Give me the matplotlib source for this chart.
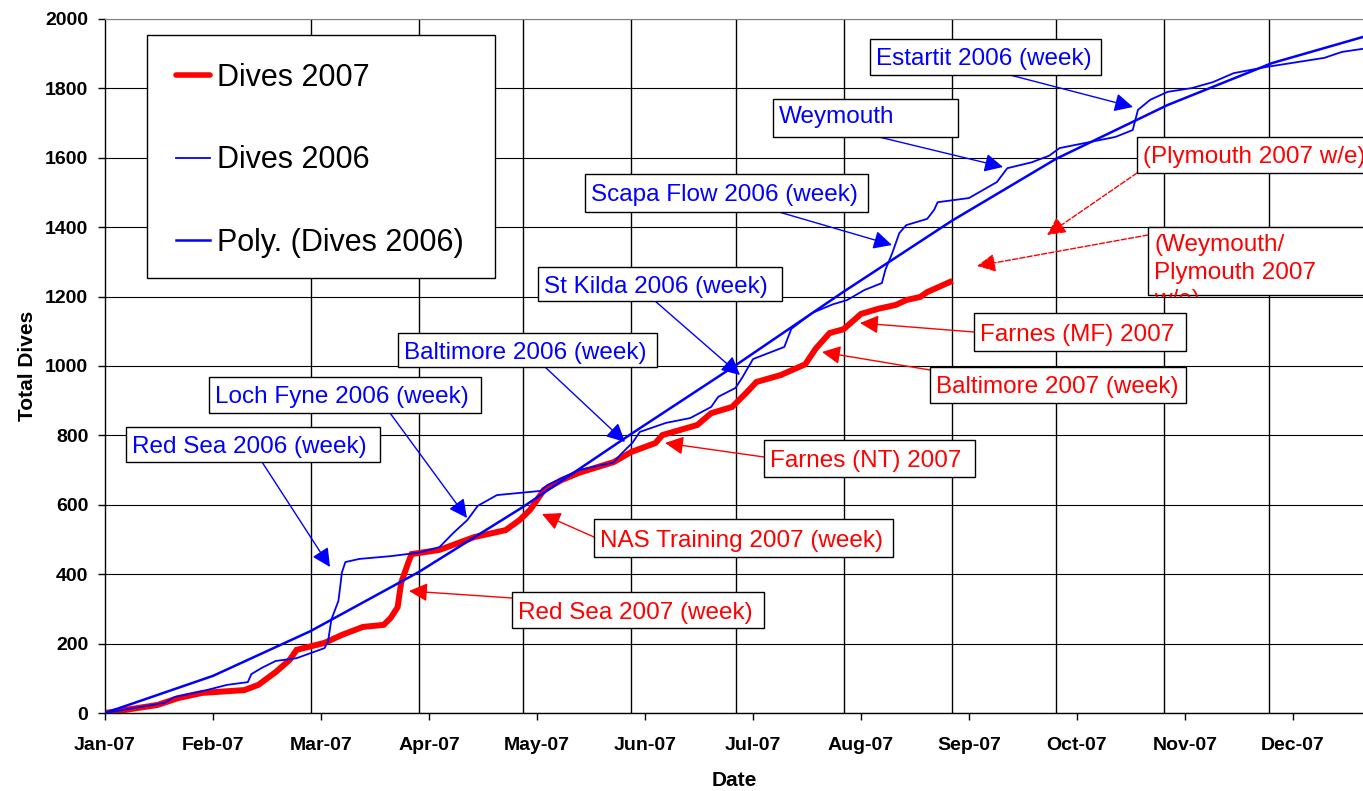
import numpy as np
import matplotlib
matplotlib.use('Agg')
import matplotlib.pyplot as plt
import matplotlib.dates as mdates
import matplotlib.ticker as mticker
from matplotlib.patches import Rectangle, FancyArrowPatch
from matplotlib.lines import Line2D

plt.rcParams['font.family'] = ['Liberation Sans', 'DejaVu Sans']

START = '2007-01-01'

# days after 1 Jan and running total of dives
days_2007 = [0, 15, 21, 28, 40, 44, 49, 53, 55, 63, 68, 74, 80, 82, 84, 85, 87, 88,
             96, 106, 115, 119, 122, 126, 131, 136, 146, 151, 158, 160, 170, 174,
             180, 184, 187, 194, 201, 204, 208, 212, 217, 222, 227, 230, 234, 236, 242.5]
dives_2007 = [0, 23, 43, 58, 66, 81, 118, 153, 182, 202, 225, 248, 254, 274, 305, 375, 432, 458,
              470, 507, 527, 556, 585, 643, 671, 692, 723, 752, 778, 801, 830, 864,
              882, 922, 954, 974, 1005, 1050, 1095, 1106, 1150, 1165, 1176, 1190, 1199, 1213, 1242]

days_2006 = [0, 17, 20, 28, 35, 41, 42, 45, 49, 55, 63, 64, 65, 67, 67.5, 68, 69, 73, 82, 90,
             96, 100, 104, 107, 112.5, 125, 127, 136, 146, 148, 151.5, 153.5, 161, 168, 174,
             176, 181, 183, 186, 195, 197, 203, 209, 213, 218, 223, 224, 226, 228, 230, 236,
             238, 239, 248, 252, 256, 259, 266, 271, 274, 290, 295, 296.5, 300, 305, 312, 318,
             324, 333.5, 350, 355, 361]
dives_2006 = [0, 29, 46, 63, 81, 89, 112, 130, 150, 158, 187, 205, 270, 323, 363, 405, 435, 444, 452, 462,
              478, 519, 556, 597, 628, 640, 657, 700, 722, 745, 780, 810, 836, 850, 882,
              911, 937, 968, 1020, 1055, 1107, 1153, 1178, 1190, 1219, 1239, 1277, 1326, 1383, 1406, 1424,
              1450, 1472, 1484, 1507, 1530, 1570, 1587, 1606, 1628, 1660, 1680, 1738, 1767, 1790, 1801, 1818,
              1844, 1862, 1888, 1905, 1914]

trend_days = [0, 31, 59, 90, 120, 151, 181, 212, 243, 273, 305, 335, 361]
trend_dives = [0, 107, 236, 406, 594, 804, 1002, 1214, 1418, 1597, 1752, 1873, 1948]

W, H = 1363, 791
fig = plt.figure(figsize=(W / 100, H / 100), dpi=100)
ax = fig.add_axes([105 / W, 1 - 713 / H, (W - 105) / W, (713 - 19) / H])

t0 = mdates.date2num(np.datetime64(START))


def to_x(d):
    return t0 + np.asarray(d, dtype=float)


ax.plot(to_x(days_2007), dives_2007, color='#ff0000', lw=4.3, solid_joinstyle='miter', zorder=2)
ax.plot(to_x(days_2006), dives_2006, color='#0000ff', lw=1.3, zorder=3)
ax.plot(to_x(trend_days), trend_dives, color='#0000ff', lw=1.8, zorder=3)

ax.set_xlim(t0, t0 + 361.1)
ax.set_ylim(0, 2000)
ax.xaxis.set_major_locator(mticker.FixedLocator(t0 + np.arange(12) * 31))
ax.xaxis.set_major_formatter(mdates.DateFormatter('%b-%y'))
ax.xaxis.set_minor_locator(mdates.MonthLocator())
ax.yaxis.set_major_locator(mticker.MultipleLocator(200))

ax.grid(False)
ax.grid(True, axis='x', which='minor', color='black', lw=1.0)
ax.grid(True, axis='y', which='major', color='black', lw=0.8)
ax.set_axisbelow(True)
ax.tick_params(axis='both', which='minor', length=0)
ax.tick_params(axis='both', which='major', direction='out', length=5, width=1, labelsize=14)
ax.tick_params(axis='x', pad=12.5)
ax.tick_params(axis='y', pad=7)
plt.setp(ax.get_xticklabels() + ax.get_yticklabels(), fontweight='bold')

ax.spines['right'].set_visible(False)
ax.spines['top'].set_color('#808080')
for s in ('left', 'bottom'):
    ax.spines[s].set_linewidth(1.0)

ax.set_xlabel('Date', fontsize=15, fontweight='bold')
ax.set_ylabel('Total Dives', fontsize=15, fontweight='bold')
ax.xaxis.set_label_coords(0.5, -0.083)
ax.yaxis.set_label_coords(-0.054, 0.5)

# legend: frame drawn separately so the padding can match
handles = [Line2D([], [], color='#ff0000', lw=4, solid_capstyle='round'),
           Line2D([], [], color='#0000ff', lw=1.3),
           Line2D([], [], color='#0000ff', lw=1.8)]
labels = ['Dives 2007', 'Dives 2006', 'Poly. (Dives 2006)']
ax.legend(handles, labels, loc='upper left', bbox_to_anchor=(176 / W, 1 - 63 / H),
          bbox_transform=fig.transFigure, frameon=False, fontsize=22,
          handlelength=1.1, handletextpad=0.25, labelspacing=1.71,
          borderpad=0, borderaxespad=0)
ax.add_patch(Rectangle((147 / W, 1 - 278 / H), (495 - 147) / W, (278 - 35) / H,
                       transform=fig.transFigure, fc='white', ec='black', lw=1,
                       clip_on=False, zorder=4))


def fp(p):
    return (p[0] / W, 1 - p[1] / H)


BLUE, RED = '#0000ff', '#ff0000'
# text, colour, box (left, top, right, bottom in px), arrow start, arrow tip, dashed
notes = [
    ('Red Sea 2006 (week)', BLUE, (126, 427, 380, 462), (262, 462), (330, 567), False),
    ('Loch Fyne 2006 (week)', BLUE, (209, 377, 481, 413), (390, 413), (467, 518), False),
    ('Baltimore 2006 (week)', BLUE, (398, 333, 657, 367), (545, 367), (625, 442), False),
    ('St Kilda 2006 (week)', BLUE, (538, 267, 782, 301), (655, 301), (740, 375), False),
    ('Scapa Flow 2006 (week)', BLUE, (585, 174, 868, 212), (779, 212), (892, 245), False),
    ('Weymouth\n2006 (week)', BLUE, (773, 99, 958, 137), (879, 137), (1003, 167), False),
    ('Estartit 2006 (week)', BLUE, (870, 39, 1101, 75), (1010, 75), (1133, 107), False),
    ('(Plymouth 2007 w/e)', RED, (1137, 137, 1375, 173), (1137, 173), (1047, 235), True),
    ('(Weymouth/\nPlymouth 2007\nw/e)', RED, (1148, 227, 1375, 295), (1148, 235), (977, 266), True),
    ('Farnes (MF) 2007', RED, (974, 313, 1186, 351), (974, 332), (860, 323), False),
    ('Baltimore 2007 (week)', RED, (930, 367, 1186, 403), (930, 370), (822, 352), False),
    ('Farnes (NT) 2007', RED, (764, 440, 975, 477), (764, 457), (665, 443), False),
    ('NAS Training 2007 (week)', RED, (594, 519, 893, 557), (594, 537), (542, 514), False),
    ('Red Sea 2007 (week)', RED, (512, 592, 764, 628), (512, 598), (409, 591), False),
]
# how far the overflowing lines stay visible, in px from the top of the box
clip_depth = {'Weymouth\n2006 (week)': 31, '(Weymouth/\nPlymouth 2007\nw/e)': 70}

for text, col, (x0, y0, x1, y1), a0, a1, dashed in notes:
    fig.add_artist(FancyArrowPatch(posA=fp(a0), posB=fp(a1), transform=fig.transFigure,
                                   arrowstyle='-|>,head_length=0.8,head_width=0.4',
                                   mutation_scale=14, color=col, lw=1,
                                   linestyle='--' if dashed else '-',
                                   shrinkA=0, shrinkB=0, zorder=5))
    box = Rectangle(fp((x0, y1)), (x1 - x0) / W, (y1 - y0) / H, transform=fig.transFigure,
                    fc='white', ec='black', lw=1, zorder=6)
    fig.add_artist(box)
    if text in clip_depth:
        # extra lines run past the bottom of the box and are cut off
        depth = clip_depth[text]
        clip = Rectangle(fp((x0, y0 + depth)), (x1 - x0) / W, depth / H,
                         transform=fig.transFigure, fc='none', ec='none')
        fig.add_artist(clip)
        t = fig.text((x0 + 6) / W, 1 - (y0 + 7) / H, text, color=col, fontsize=17.5,
                     ha='left', va='top', linespacing=1.33, zorder=7)
        t.set_clip_path(clip)
    else:
        fig.text((x0 + 6) / W, 1 - (y0 + y1) / 2 / H, text, color=col, fontsize=17.5,
                 ha='left', va='center_baseline', zorder=7)

fig.savefig('out.png', dpi=100)
